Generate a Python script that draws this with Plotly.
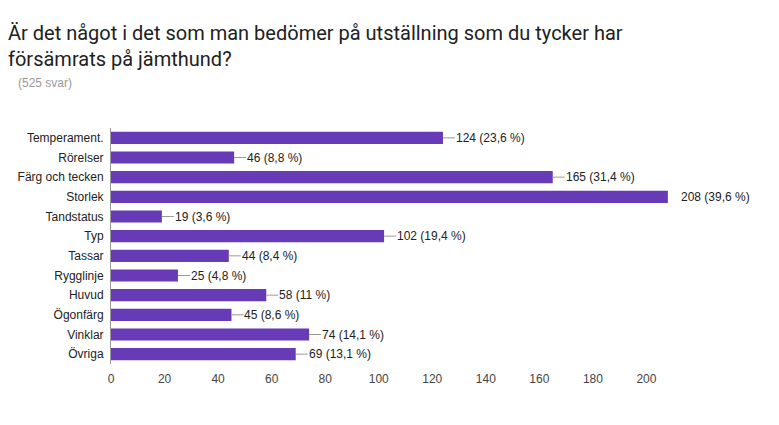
import plotly.graph_objects as go

categories = ["Temperament.", "Rörelser", "Färg och tecken", "Storlek", "Tandstatus", "Typ",
              "Tassar", "Rygglinje", "Huvud", "Ögonfärg", "Vinklar", "Övriga"]
counts = [124, 46, 165, 208, 19, 102, 44, 25, 58, 45, 74, 69]
percents = ["23,6", "8,8", "31,4", "39,6", "3,6", "19,4", "8,4", "4,8", "11", "8,6", "14,1", "13,1"]
tick_values = [0, 20, 40, 60, 80, 100, 120, 140, 160, 180, 200]

title_text = ("Är det något i det som man bedömer på utställning som du tycker har<br>"
              "försämrats på jämthund?")
subtitle_text = "(525 svar)"

BAR = "#673ab7"
FONT = "Liberation Sans, Arial, sans-serif"

W, H = 779, 425
L, R, T, B = 111, 79, 128, 61
PW, PH = W - L - R, H - T - B


def px_x(px):
    return (px - L) / PW


def px_y(py):
    return 1 + (T - py) / PH


fig = go.Figure(go.Bar(
    x=counts, y=categories, orientation="h",
    marker=dict(color=BAR, line=dict(width=0)),
    width=0.62, hoverinfo="skip",
))

xmax = 220
annotations = []
shapes = []
for c, v, p in zip(categories, counts, percents):
    annotations.append(dict(
        x=v, y=c, xref="x", yref="y", text=f"{v} ({p} %)", showarrow=False,
        xanchor="left", yanchor="middle", xshift=11,
        font=dict(family=FONT, size=12, color="#222222"),
    ))
    if v < 200:
        shapes.append(dict(
            type="line", xref="x", yref="y", xsizemode="pixel", xanchor=v,
            x0=0, x1=12, y0=c, y1=c, line=dict(color="#999999", width=1),
        ))

annotations.append(dict(
    x=px_x(6), y=px_y(46.5), xref="paper", yref="paper",
    text=title_text, showarrow=False, xanchor="left", yanchor="middle", align="left",
    font=dict(family="Roboto, Arial, sans-serif", size=20, color="#212121"),
))
annotations.append(dict(
    x=px_x(16), y=px_y(83), xref="paper", yref="paper",
    text=subtitle_text, showarrow=False, xanchor="left", yanchor="middle",
    font=dict(family=FONT, size=12, color="#999999"),
))

fig.update_layout(
    width=W, height=H,
    margin=dict(l=L, r=R, t=T, b=B),
    paper_bgcolor="white", plot_bgcolor="white",
    showlegend=False,
    xaxis=dict(
        range=[0, xmax], tickvals=tick_values, showgrid=False, zeroline=False,
        showline=False, ticks="", ticklabelstandoff=6,
        tickfont=dict(family=FONT, size=12, color="#444444"),
    ),
    yaxis=dict(
        autorange="reversed", showgrid=False, zeroline=False, showline=True,
        linecolor="#999999", linewidth=1, ticks="", ticklabelstandoff=4,
        tickfont=dict(family=FONT, size=12, color="#222222"),
    ),
    annotations=annotations,
    shapes=shapes,
)

fig.write_html("out.html")
